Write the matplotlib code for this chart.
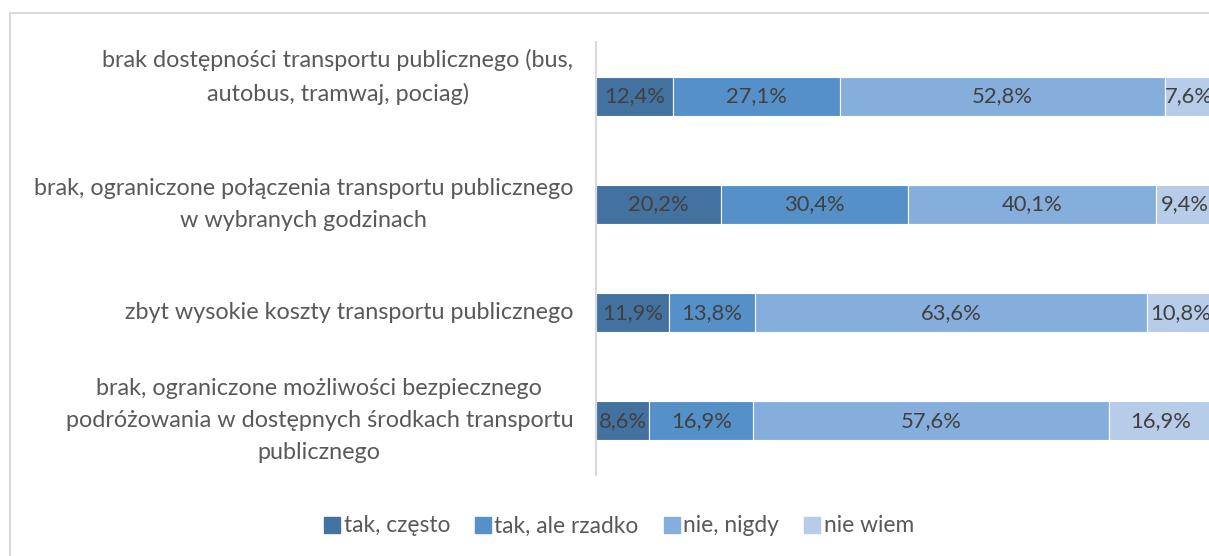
import matplotlib
matplotlib.use("agg")
import matplotlib.pyplot as plt
from matplotlib.patches import Rectangle
import numpy as np

categories = [
    "brak dostępności transportu publicznego (bus,\nautobus, tramwaj, pociag)",
    "brak, ograniczone połączenia transportu publicznego\nw wybranych godzinach",
    "zbyt wysokie koszty transportu publicznego",
    "brak, ograniczone możliwości bezpiecznego\npodróżowania w dostępnych środkach transportu\npublicznego",
]
series = ["tak, często", "tak, ale rzadko", "nie, nigdy", "nie wiem"]
tak_czesto = [12.4, 20.2, 11.9, 8.6]
tak_rzadko = [27.1, 30.4, 13.8, 16.9]
nie_nigdy = [52.8, 40.1, 63.6, 57.6]
nie_wiem = [7.6, 9.4, 10.8, 16.9]

colors = ["#4472A0", "#5591C8", "#86AEDC", "#B6CCE8"]

plt.rcParams["font.family"] = ["Lato", "DejaVu Sans"]

fig = plt.figure(figsize=(12.09, 5.56), dpi=100)
# chart area frame, runs off the right and bottom edge
fig.patches.append(Rectangle((9.5 / 1209, -0.1), 1.2, (556 - 12.5) / 556 + 0.1,
                             transform=fig.transFigure, fill=False,
                             edgecolor="#D9D9D9", linewidth=1.5))

ax = fig.add_axes([596 / 1209, 81 / 556, 617 / 1209, 433 / 556])

y = np.arange(len(categories))
left = np.zeros(len(categories))
values = [tak_czesto, tak_rzadko, nie_nigdy, nie_wiem]
for name, vals, col in zip(series, values, colors):
    vals = np.array(vals)
    bars = ax.barh(y, vals, left=left, height=0.36, color=col,
                   edgecolor="white", linewidth=0.8, label=name, clip_on=False)
    for b, v in zip(bars, vals):
        ax.text(b.get_x() + b.get_width() / 2, b.get_y() + b.get_height() / 2,
                f"{v:.1f}%".replace(".", ","), ha="center", va="center",
                fontsize=15.8, color="#404040", clip_on=False)
    left += vals

ax.set_xlim(0, 100)
ax.set_ylim(len(categories) - 0.5, -0.5)
ax.set_xticks([])
ax.set_yticks([])
for s in ["top", "right", "bottom"]:
    ax.spines[s].set_visible(False)
ax.spines["left"].set_color("#D9D9D9")
ax.spines["left"].set_linewidth(1.5)

# category labels, the first one sits a little above its bar
label_shift = [-0.175, 0, 0, 0]
for i, (cat, dy) in enumerate(zip(categories, label_shift)):
    ax.text(-0.037, i + dy, cat, transform=ax.get_yaxis_transform(),
            ha="right", va="center", multialignment="center",
            fontsize=16.8, color="#595959", linespacing=1.65)

handles = [Rectangle((0, 0), 1, 1, color=c) for c in colors]
fig.legend(handles, series, loc="center", bbox_to_anchor=(619 / 1209, 1 - 526 / 556),
           ncol=4, frameon=False, fontsize=16.4, labelcolor="#595959",
           handlelength=0.7, handleheight=0.7, handletextpad=0.15,
           columnspacing=1.1)

fig.savefig("out.png", dpi=100)
